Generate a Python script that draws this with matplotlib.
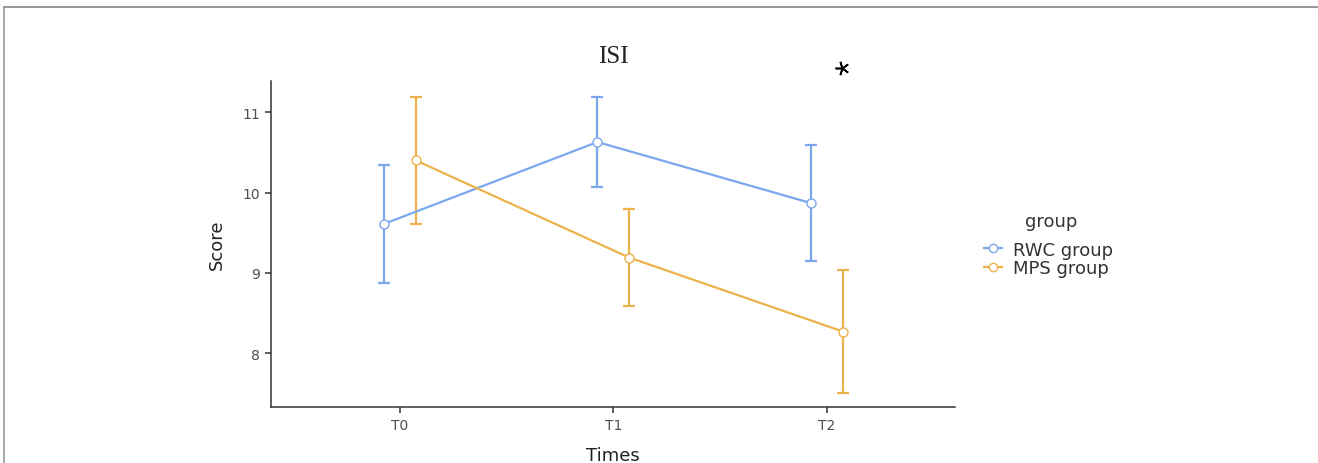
import matplotlib
matplotlib.use("Agg")
import matplotlib.pyplot as plt
from matplotlib.lines import Line2D
import numpy as np

times = ["T0", "T1", "T2"]
groups = ["RWC group", "MPS group"]
rwc_mean = [9.61, 10.63, 9.87]
rwc_upper = [10.35, 11.19, 10.59]
rwc_lower = [8.87, 10.07, 9.15]
mps_mean = [10.40, 9.19, 8.27]
mps_upper = [11.19, 9.79, 9.04]
mps_lower = [9.61, 8.59, 7.51]
colors = ["#7BA7EC", "#EDB24C"]

W, H = 1318, 464
fig = plt.figure(figsize=(W / 100, H / 100), dpi=100)

# screenshot frame
fig.add_artist(Line2D([4 / W, 4 / W], [0, 1 - 7.5 / H], transform=fig.transFigure, color="#9a9a9a", lw=1.2))
fig.add_artist(Line2D([4 / W, 1], [1 - 7.5 / H, 1 - 7.5 / H], transform=fig.transFigure, color="#9a9a9a", lw=1.5))

ax = fig.add_axes([271 / W, 1 - 408 / H, (955 - 271) / W, (408 - 82) / H])

x = np.arange(len(times))
dodge = 0.075
series = [(rwc_mean, rwc_upper, rwc_lower), (mps_mean, mps_upper, mps_lower)]
for i, (m, u, l) in enumerate(series):
    xs = x + (-dodge if i == 0 else dodge)
    m = np.array(m); u = np.array(u); l = np.array(l)
    ax.errorbar(xs, m, yerr=[m - l, u - m], fmt="none", ecolor=colors[i],
                elinewidth=1.6, capsize=4, capthick=1.6, zorder=2)
    ax.plot(xs, m, color=colors[i], lw=1.6, marker="o", ms=6.5,
            mfc="white", mec=colors[i], mew=1.0, zorder=3, label=groups[i])

ax.set_xlim(-0.604, 2.6)
ax.set_ylim(7.33, 11.39)
ax.set_xticks(x)
ax.set_xticklabels(times)
ax.set_yticks([8, 9, 10, 11])
for s in ["top", "right"]:
    ax.spines[s].set_visible(False)
for s in ["left", "bottom"]:
    ax.spines[s].set_color("#333333")
    ax.spines[s].set_linewidth(1.1)
ax.tick_params(axis="both", colors="#333333", labelcolor="#4d4d4d", labelsize=10, length=4.5, width=1.1)
ax.set_xlabel("Times", fontsize=13, color="#222222", labelpad=10)
ax.set_ylabel("Score", fontsize=13, color="#222222", labelpad=12)
ax.set_title("ISI", fontsize=18, family="Liberation Serif", color="#222222", pad=14)

ax.plot([2.07], [11.55], marker=(5, 2, 18), ms=10, mew=1.2, color="black", clip_on=False, zorder=5)

handles = [Line2D([0], [0], color=colors[i], lw=1.6, marker="o", ms=6, mfc="white", mec=colors[i])
           for i in range(2)]
leg = fig.legend(handles, groups, loc="center left",
                 bbox_to_anchor=(968 / W, 1 - 260 / H), frameon=False, fontsize=13,
                 handlelength=1.0, handletextpad=0.6, labelspacing=0.05)
for t in leg.get_texts():
    t.set_color("#333333")
fig.text(1051 / W, 1 - 222 / H, "group", fontsize=13, color="#333333", ha="center", va="center")

fig.savefig("out.png", dpi=100)
